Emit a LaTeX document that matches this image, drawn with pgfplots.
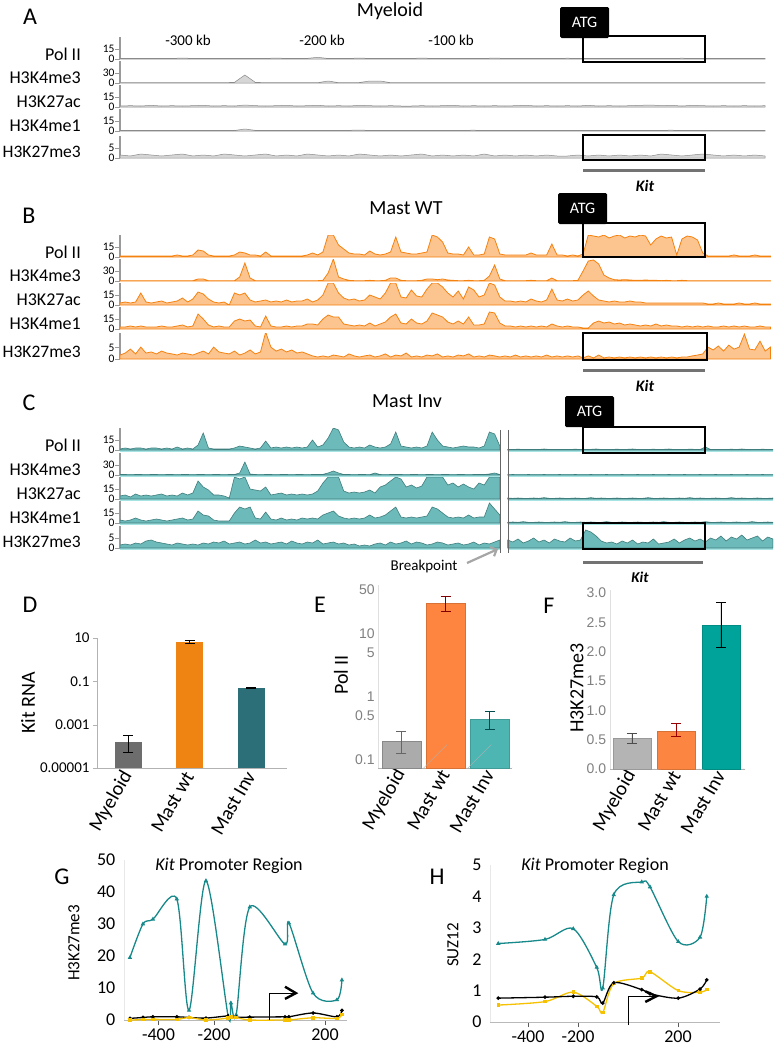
\documentclass[border=0pt]{standalone}
\usepackage{fontspec}
\setmainfont{Carlito}
\newfontfamily\arialf{Liberation Sans}
\usepackage{pgfplots}
\pgfplotsset{compat=1.18}
\usetikzlibrary{arrows.meta}

\definecolor{tkgray}{HTML}{9A9A9A}
\definecolor{agray}{HTML}{8A8A8A}
\definecolor{borg}{HTML}{F5820F}
\definecolor{borgf}{HTML}{FCC48F}
\definecolor{cline}{HTML}{3F7D7D}
\definecolor{cfill}{HTML}{6CBAB9}
\definecolor{cband}{HTML}{A6E3E3}
\definecolor{dgray}{HTML}{6D6D6D}
\definecolor{dorg}{HTML}{EF8413}
\definecolor{dteal}{HTML}{2C6F79}
\definecolor{egray}{HTML}{ABABAB}
\definecolor{eorg}{HTML}{FD8540}
\definecolor{eteal}{HTML}{4DB6B2}
\definecolor{fgray}{HTML}{B4B4B4}
\definecolor{forg}{HTML}{FC8542}
\definecolor{fteal}{HTML}{00A39A}
\definecolor{gteal}{HTML}{17898A}
\definecolor{gyel}{HTML}{F5C100}

\newcommand{\fsz}[1]{\fontsize{#1}{#1}\selectfont}

\pgfplotsset{
  table/td/.style={header=false, row sep=\\, y index=0},
  trk/.style={anchor=south west, width=653pt, scale only axis, xmin=-356, xmax=146, ymin=0,
    axis x line=none, axis y line=left, y axis line style={-, line width=2.4pt, draw=tkgray},
    ytick style={draw=tkgray, line width=1pt}, tick align=outside, major tick length=5pt,
    yticklabel style={font=\fsz{11.5}, inner sep=0.3pt},
    /pgf/number format/assume math mode=true},
  atrk/.style={draw=agray, fill=agray!35, line width=0.5pt},
  btrk/.style={draw=borg, fill=borgf, line width=0.8pt},
  ctrk/.style={draw=cline, fill=cfill, line width=0.6pt},
  onebar/.style={ybar, bar shift=0pt},
  ebar/.style={error bars/.cd, y dir=both, y explicit,
    error bar style={line width=0.9pt, #1},
    error mark options={rotate=90, mark size=5pt, line width=0.9pt, #1}},
  catbar/.style={anchor=south west, scale only axis, axis lines=left, axis line style={-},
    xtick={0,1,2}, xticklabels={Myeloid,Mast wt,Mast Inv}, xtick style={draw=none},
    xticklabel style={rotate=60, anchor=east, font=\fsz{20}, inner sep=1pt}},
}

\begin{document}
\begin{tikzpicture}
\useasboundingbox (0pt,0pt) rectangle (774pt,-1050pt);

% ---------------- A : Myeloid
\begin{axis}[trk, at={(120pt,-59pt)}, height=22pt, ymax=33, ytick={0,15}]
\addplot[atrk] table[td, x expr=\coordindex*8-356] {
0.8\\0.8\\1\\0.8\\0.8\\0.8\\1.5\\0.8\\0.8\\1\\0.8\\0.8\\1\\0.8\\0.8\\1.5\\0.8\\0.8\\1\\2.5\\
0.8\\1\\0.8\\1.5\\0.8\\0.8\\1\\0.8\\0.8\\1.5\\0.8\\1\\0.8\\0.8\\1\\0.8\\1.5\\0.8\\1\\0.8\\
0.8\\1\\0.8\\1.2\\0.8\\0.8\\1\\0.8\\0.8\\1\\0.8\\1\\0.8\\0.8\\1.2\\0.8\\1\\0.8\\0.8\\1\\
0.8\\1\\0.8\\} \closedcycle;
\end{axis}
\begin{axis}[trk, at={(120pt,-83pt)}, height=22pt, ymax=66, ytick={0,30}]
\addplot[atrk] table[td, x expr=\coordindex*8-356] {
1\\1\\1.5\\1\\1\\1.5\\1\\1\\1\\1.5\\1\\2\\24\\2\\1\\1\\1.5\\1\\1\\1\\
6\\1\\1\\1.5\\6\\6\\1\\1\\1\\1.5\\1\\1\\1\\1\\1.5\\1\\1\\1\\1\\1.5\\
1\\1\\1\\1.5\\1\\1\\1\\1\\1.5\\1\\1\\1\\1\\1.5\\1\\1\\1\\1\\1.5\\1\\
1\\1\\1\\} \closedcycle;
\end{axis}
\begin{axis}[trk, at={(120pt,-107pt)}, height=22pt, ymax=33, ytick={0,15}]
\addplot[atrk] table[td, x expr=\coordindex*8-356] {
1.5\\2\\1.5\\2.5\\1.5\\2\\1.5\\2\\2.5\\1.5\\2\\1.5\\3\\2\\1.5\\2\\2.5\\1.5\\2\\2.5\\
1.5\\2\\1.5\\2.5\\2\\1.5\\2\\1.5\\1.5\\2\\1.5\\2\\2.5\\1.5\\2\\1.5\\2\\1.5\\2\\2.5\\
1.5\\2\\1.5\\2\\1.5\\2.5\\1.5\\2\\1.5\\2\\2.5\\3\\2\\2.5\\1.5\\2.5\\2\\1.5\\2\\1.5\\
2\\1.5\\2\\} \closedcycle;
\end{axis}
\begin{axis}[trk, at={(120pt,-131pt)}, height=22pt, ymax=33, ytick={0,15}]
\addplot[atrk] table[td, x expr=\coordindex*8-356] {
0.8\\1\\0.8\\1\\0.8\\1\\0.8\\0.8\\1\\0.8\\1\\0.8\\3\\1\\0.8\\1\\0.8\\1\\0.8\\1\\
1\\0.8\\1\\1.5\\0.8\\1\\0.8\\1\\0.8\\1\\0.8\\1\\0.8\\1\\1.2\\0.8\\1\\0.8\\1\\0.8\\
1\\0.8\\1\\0.8\\1\\0.8\\1\\0.8\\1\\0.8\\1\\0.8\\1\\1.2\\0.8\\1\\0.8\\1\\0.8\\1\\
0.8\\1\\0.8\\} \closedcycle;
\end{axis}
\begin{axis}[trk, at={(120pt,-158pt)}, height=22pt, ymax=11, ytick={0,5}]
\addplot[atrk] table[td, x expr=\coordindex*8-356] {
1.5\\1\\2\\1.5\\1\\1.5\\2\\1\\1.5\\1\\2\\1.5\\1\\1.5\\2\\1\\1.5\\1\\2\\1.5\\
1\\1.5\\1\\2\\1.5\\1\\1.5\\1\\1.5\\2\\1\\1.5\\1\\1.5\\1\\2\\1\\1.5\\1\\1.5\\
1\\1.5\\1\\1\\1.5\\1\\1.5\\1\\1.5\\1\\1.5\\1\\2\\1.5\\1\\1.5\\2\\1.5\\1\\1.5\\
1\\1.5\\1\\} \closedcycle;
\end{axis}

% ---------------- B : Mast WT
\begin{axis}[trk, at={(120pt,-257pt)}, height=22pt, ymax=33, ytick={0,15}]
\addplot[btrk] table[td, x expr=\coordindex*4-356] {
1.5\\1.5\\1.5\\1.5\\1.5\\1.5\\1.5\\1.5\\1.5\\1.5\\
1.5\\3\\1.5\\1.5\\3\\10.5\\9\\3\\1.5\\1.5\\
1.5\\1.5\\3\\7.5\\6\\3\\3\\1.5\\7.5\\1.5\\
1.5\\1.5\\1.5\\1.5\\1.5\\1.5\\3\\6\\3\\7.5\\
33\\33\\18\\12\\6\\4.5\\4.5\\3\\9\\4.5\\
3\\4.5\\7.5\\30\\7.5\\6\\4.5\\4.5\\6\\7.5\\
33\\30\\22.5\\6\\4.5\\4.5\\3\\15\\3\\3\\
4.5\\30\\27\\4.5\\3\\3\\3\\3\\3\\6\\
3\\3\\3\\19.5\\3\\3\\1.5\\3\\1.5\\4.5\\
33\\31.5\\30\\33\\28.5\\31.5\\33\\28.5\\31.5\\30\\
33\\31.5\\18\\27\\31.5\\28.5\\30\\3\\27\\31.5\\
30\\25.5\\6\\1.5\\1.5\\1.5\\1.5\\1.5\\3\\1.5\\
1.5\\1.5\\3\\1.5\\1.5\\1.5\\} \closedcycle;
\end{axis}
\begin{axis}[trk, at={(120pt,-281pt)}, height=22pt, ymax=66, ytick={0,30}]
\addplot[btrk] table[td, x expr=\coordindex*4-356] {
1\\1\\1\\1\\1\\1\\1\\1\\1\\1\\
1\\1\\1\\1\\1\\6\\6\\1\\1\\1\\
1\\1\\1\\12\\54\\9\\1\\1\\1\\1\\
1\\1\\1\\1\\1\\1\\1\\1\\1\\2\\
24\\66\\12\\6\\2\\1\\1\\1\\2\\1\\
1\\2\\9\\9\\2\\1\\1\\1\\2\\6\\
6\\4\\6\\3\\2\\1\\1\\2\\1\\1\\
2\\15\\48\\6\\1\\1\\1\\1\\1\\2\\
1\\1\\1\\9\\1\\1\\1\\1\\2\\30\\
60\\63\\51\\18\\9\\4\\3\\4\\3\\2\\
2\\3\\2\\2\\1\\2\\1\\1\\2\\1\\
1\\1\\1\\1\\1\\1\\1\\1\\1\\1\\
1\\1\\1\\1\\1\\1\\} \closedcycle;
\end{axis}
\begin{axis}[trk, at={(120pt,-305pt)}, height=22pt, ymax=33, ytick={0,15}]
\addplot[btrk] table[td, x expr=\coordindex*4-356] {
3\\4.5\\3\\4.5\\18\\4.5\\3\\4.5\\6\\3\\
4.5\\6\\10.5\\4.5\\9\\19.5\\16.5\\9\\4.5\\3\\
4.5\\0\\18\\15\\18\\7.5\\4.5\\6\\7.5\\4.5\\
6\\4.5\\7.5\\4.5\\6\\6\\9\\4.5\\7.5\\15\\
33\\33\\18\\10.5\\7.5\\9\\6\\7.5\\15\\12\\
9\\18\\33\\33\\12\\10.5\\22.5\\13.5\\12\\24\\
33\\33\\27\\18\\12\\21\\9\\27\\22.5\\12\\
15\\33\\30\\12\\6\\6\\4.5\\6\\4.5\\9\\
6\\4.5\\7.5\\24\\7.5\\6\\9\\6\\7.5\\15\\
21\\13.5\\7.5\\6\\4.5\\6\\4.5\\4.5\\6\\4.5\\
4.5\\3\\3\\3\\3\\3\\3\\3\\3\\3\\
3\\3\\3\\1.5\\1.5\\3\\1.5\\1.5\\1.5\\3\\
1.5\\1.5\\3\\1.5\\1.5\\1.5\\} \closedcycle;
\end{axis}
\begin{axis}[trk, at={(120pt,-329pt)}, height=22pt, ymax=33, ytick={0,15}]
\addplot[btrk] table[td, x expr=\coordindex*4-356] {
3\\3\\4.5\\3\\4.5\\3\\3\\3\\4.5\\3\\
3\\4.5\\6\\3\\4.5\\22.5\\15\\6\\3\\4.5\\
3\\3\\12\\15\\12\\13.5\\4.5\\3\\19.5\\4.5\\
3\\3\\4.5\\3\\4.5\\4.5\\7.5\\7.5\\6\\15\\
21\\18\\18\\7.5\\6\\4.5\\6\\4.5\\9\\4.5\\
7.5\\10.5\\18\\22.5\\9\\7.5\\15\\9\\7.5\\12\\
24\\21\\18\\10.5\\7.5\\12\\7.5\\18\\6\\6\\
7.5\\25.5\\24\\9\\4.5\\4.5\\3\\4.5\\3\\4.5\\
3\\4.5\\3\\7.5\\4.5\\3\\4.5\\3\\3\\1.5\\
1.5\\9\\12\\9\\10.5\\7.5\\9\\6\\7.5\\6\\
4.5\\6\\4.5\\7.5\\4.5\\6\\4.5\\4.5\\3\\4.5\\
3\\4.5\\3\\4.5\\3\\3\\4.5\\3\\4.5\\3\\
4.5\\3\\3\\4.5\\3\\3\\} \closedcycle;
\end{axis}
\begin{axis}[trk, at={(120pt,-359pt)}, height=26pt, ymax=11.8, ytick={0,5}]
\addplot[btrk] table[td, x expr=\coordindex*4-356] {
1.8\\2.7\\4.5\\2.3\\5.4\\2.7\\3.2\\2.3\\3.6\\2.7\\
2.3\\1.8\\2.7\\2.3\\1.8\\2.7\\3.6\\2.3\\5.4\\3.2\\
2.7\\2.3\\3.6\\1.8\\2.7\\4.1\\2.3\\3.2\\12.2\\5.4\\
3.6\\4.5\\3.2\\4.1\\2.7\\3.2\\2.3\\1.4\\0.9\\1.4\\
0.9\\1.8\\1.4\\0.9\\2.3\\1.4\\0.9\\1.4\\1.8\\0.9\\
1.4\\2.3\\0.9\\1.8\\1.4\\2.7\\0.9\\1.4\\0.9\\1.8\\
1.4\\2.3\\0.9\\1.4\\0.9\\1.8\\1.4\\2.3\\0.9\\1.4\\
0.9\\1.8\\1.4\\0.9\\1.4\\0.9\\1.8\\0.9\\1.4\\0.9\\
1.4\\0.9\\1.8\\0.9\\1.4\\0.9\\1.4\\0.9\\1.4\\0.5\\
1.4\\0.5\\1.8\\0.5\\0.9\\0.5\\0.9\\0.5\\0.9\\0.5\\
0.9\\0.5\\0.9\\0.5\\0.9\\0.5\\0.9\\0.5\\0.9\\0.9\\
1.4\\1.8\\2.3\\5.4\\4.1\\5.9\\3.6\\6.3\\4.5\\5.4\\
11.3\\4.5\\4.1\\8.1\\3.6\\5.4\\} \closedcycle;
\end{axis}

% ---------------- C : Mast Inv
\foreach \yy in {450,475,499,523,548} {
  \draw[cband, line width=3pt] (120pt,-\yy pt) ++(0,-0.5pt) -- ++(380pt,0);
  \draw[cband, line width=3pt] (508pt,-\yy pt) ++(0,-0.5pt) -- ++(265pt,0);
}
\begin{axis}[trk, at={(120pt,-450pt)}, height=22pt, ymax=33, ytick={0,15}]
\addplot[ctrk] table[td, x expr=\coordindex*4-356] {
1.5\\3\\1.5\\3\\3\\1.5\\3\\3\\1.5\\3\\
1.5\\4.5\\1.5\\3\\1.5\\7.5\\25.5\\3\\1.5\\1.5\\
1.5\\1.5\\3\\6\\4.5\\3\\1.5\\3\\13.5\\3\\
4.5\\3\\4.5\\3\\4.5\\3\\4.5\\15\\4.5\\7.5\\
18\\33\\30\\12\\4.5\\3\\4.5\\3\\7.5\\4.5\\
3\\4.5\\9\\27\\6\\4.5\\3\\4.5\\3\\6\\
27\\15\\6\\4.5\\3\\4.5\\6\\4.5\\4.5\\3\\
6\\27\\24\\6\\} \closedcycle;
\addplot[ctrk] table[td, x expr=\coordindex*4-58] {
1\\0.8\\1.2\\0.8\\0.8\\1\\0.8\\1.5\\0.8\\0.8\\
1\\0.8\\0.8\\1.2\\0.8\\0.8\\1\\1.5\\0.8\\1\\
0.8\\1.2\\0.8\\1\\1.5\\0.8\\1\\0.8\\1.2\\0.8\\
1\\1.5\\0.8\\1\\0.8\\1.2\\1\\0.8\\4.5\\0.8\\
0.8\\1\\0.8\\1.2\\0.8\\1.5\\0.8\\1\\0.8\\1.2\\
0.8\\1\\} \closedcycle;
\end{axis}
\begin{axis}[trk, at={(120pt,-475pt)}, height=22pt, ymax=66, ytick={0,30}]
\addplot[ctrk] table[td, x expr=\coordindex*4-356] {
1.5\\1.5\\1\\1.5\\1.5\\1\\1.5\\1.5\\1\\1.5\\
1.5\\1\\1.5\\1.5\\1\\1.5\\1.5\\1\\1.5\\1.5\\
1\\1.5\\1.5\\6\\39\\3\\1.5\\1\\1.5\\1.5\\
1\\1.5\\1.5\\1\\1.5\\1.5\\1\\1.5\\1.5\\2\\
6\\12\\6\\1.5\\1.5\\1\\1.5\\1.5\\1\\6\\
1.5\\1\\1.5\\1.5\\1.5\\1\\1.5\\1.5\\1\\1.5\\
1.5\\1\\1.5\\1.5\\1\\1.5\\1.5\\1\\1.5\\1.5\\
1.5\\3\\6\\1.5\\} \closedcycle;
\addplot[ctrk] table[td, x expr=\coordindex*4-58] {
1\\1.5\\1\\1\\1.5\\1\\1\\1.5\\1\\1\\
1.5\\1\\1\\1.5\\1\\1\\1.5\\1\\1\\1.5\\
1\\1\\1.5\\1\\1\\1.5\\1\\1\\1.5\\1\\
1\\1.5\\1\\1\\1.5\\1\\1\\1.5\\1\\1\\
1.5\\1\\1\\1.5\\1\\1\\1.5\\1\\1\\1.5\\
1\\1\\} \closedcycle;
\end{axis}
\begin{axis}[trk, at={(120pt,-499pt)}, height=22pt, ymax=33, ytick={0,15}]
\addplot[ctrk] table[td, x expr=\coordindex*4-356] {
4.5\\6\\3\\7.5\\4.5\\6\\4.5\\6\\7.5\\4.5\\
6\\4.5\\9\\6\\9\\27\\18\\13.5\\6\\6\\
4.5\\1.5\\33\\30\\33\\15\\13.5\\12\\18\\6\\
7.5\\9\\6\\7.5\\6\\7.5\\6\\7.5\\12\\24\\
33\\33\\33\\12\\9\\10.5\\9\\10.5\\13.5\\9\\
18\\21\\27\\33\\30\\18\\21\\16.5\\19.5\\33\\
33\\33\\33\\21\\24\\18\\22.5\\18\\15\\24\\
21\\33\\33\\33\\} \closedcycle;
\addplot[ctrk] table[td, x expr=\coordindex*4-58] {
1.5\\1\\1.5\\1\\1\\1.5\\1\\2\\1\\1\\
1.5\\1\\1\\1.5\\1\\1\\2\\1\\1.5\\1\\
1\\1.5\\1\\1\\1.5\\1\\1\\2\\1\\1\\
1.5\\1\\1\\1.5\\1\\2\\1\\1.5\\1\\1\\
1.5\\1\\1\\2\\1\\1.5\\1\\1\\1.5\\1\\
1\\1.5\\} \closedcycle;
\end{axis}
\begin{axis}[trk, at={(120pt,-523pt)}, height=22pt, ymax=33, ytick={0,15}]
\addplot[ctrk] table[td, x expr=\coordindex*4-356] {
4.5\\3\\4.5\\7.5\\4.5\\3\\4.5\\6\\4.5\\3\\
4.5\\6\\7.5\\4.5\\6\\18\\12\\10.5\\4.5\\3\\
3\\3\\15\\24\\21\\24\\7.5\\6\\16.5\\6\\
4.5\\7.5\\4.5\\6\\4.5\\7.5\\6\\7.5\\6\\12\\
15\\18\\10.5\\7.5\\6\\7.5\\6\\7.5\\12\\7.5\\
9\\12\\18\\24\\9\\7.5\\9\\7.5\\9\\10.5\\
24\\21\\15\\9\\7.5\\9\\7.5\\12\\7.5\\9\\
9\\30\\21\\12\\} \closedcycle;
\addplot[ctrk] table[td, x expr=\coordindex*4-58] {
1\\1.5\\1\\2\\1\\1\\1.5\\1\\1\\1.5\\
1\\2\\1\\1\\1.5\\1\\1.5\\1\\1\\2\\
1\\1\\1.5\\1\\1\\1.5\\1\\1\\1.5\\1\\
2\\1\\1\\1.5\\1\\1\\1.5\\1\\2\\1\\
1\\1.5\\1\\1\\1.5\\1\\1\\2\\1\\1\\
1.5\\1\\} \closedcycle;
\end{axis}
\begin{axis}[trk, at={(120pt,-548pt)}, height=22pt, ymax=11, ytick={0,5}]
\addplot[ctrk] table[td, x expr=\coordindex*4-356] {
1.5\\2\\1.5\\2.5\\2\\3.5\\4\\3\\2.5\\2\\
1.5\\2.5\\2\\1.5\\2\\1.5\\2.5\\2\\3\\2.5\\
3.5\\2\\2.5\\3\\2\\2.5\\4\\2.5\\3\\2\\
2.5\\3\\2\\3.5\\2.5\\2\\3\\2.5\\4\\2\\
2.5\\3\\2\\2.5\\1.5\\2\\1\\1.5\\1\\2\\
2.5\\1.5\\3\\2\\2.5\\3.5\\2\\3\\2.5\\1.5\\
2\\3\\2.5\\1.5\\2\\2.5\\1.5\\2\\3\\1.5\\
2.5\\2\\3\\4\\} \closedcycle;
\addplot[ctrk] table[td, x expr=\coordindex*4-58] {
4\\3\\4.5\\2.5\\3.5\\5\\3\\4\\2.5\\4.5\\
3.5\\3\\5\\3.5\\4\\9\\8\\6\\3.5\\2.5\\
3\\2\\3.5\\2.5\\4\\2\\3\\2.5\\4.5\\2\\
2.5\\3\\4.5\\2.5\\4\\5\\3.5\\4.5\\3\\5\\
4\\6\\3.5\\5.5\\4.5\\6.5\\4\\5\\6\\3.5\\
5.5\\4.5\\} \closedcycle;
\end{axis}

% ---------------- D : Kit RNA
\begin{axis}[catbar, at={(97pt,-768pt)}, width=190pt, height=130pt,
  ymode=log, log origin=infty, ymin=1e-5, ymax=10, xmin=-0.51, xmax=2.58,
  axis line style={draw=gray!60},
  ytick={1e-5,1e-3,1e-1,10}, yticklabels={0.00001,0.001,0.1,10},
  yticklabel style={font=\fsz{15}}, ytick style={draw=gray!60}, tick align=outside,
  major tick length=4pt]
\addplot[onebar, bar width=27pt, fill=dgray, draw=none, ebar=black]
  coordinates {(0,0.00016) += (0,0.00017) -= (0,0.000105)};
\addplot[onebar, bar width=27pt, fill=dorg, draw=none, ebar=black]
  coordinates {(1,6.5) += (0,1.2) -= (0,1.0)};
\addplot[onebar, bar width=27pt, fill=dteal, draw=none, ebar=black]
  coordinates {(2,0.049) += (0,0.004) -= (0,0.004)};
\end{axis}

% ---------------- E : Pol II
\begin{axis}[catbar, at={(378pt,-768pt)}, width=134pt, height=183pt,
  ymode=log, log origin=infty, ymin=0.075, ymax=60, xmin=-0.53, xmax=2.5,
  x axis line style={draw=gray!60}, y axis line style={draw=gray!25},
  ytick={0.1,0.5,1,5,10,50}, yticklabels={0.1,0.5,1,5,10,50},
  yticklabel style={font=\arialf\fsz{14}, text=gray, inner sep=1pt}, ytick style={draw=none}]
\addplot[onebar, bar width=39pt, fill=egray, draw=egray!80!black, ebar={gray!80!black}]
  coordinates {(0,0.2) += (0,0.09) -= (0,0.07)};
\addplot[onebar, bar width=39pt, fill=eorg, draw=eorg!85!black, ebar={red!50!black}]
  coordinates {(1,31) += (0,9) -= (0,8)};
\addplot[onebar, bar width=39pt, fill=eteal, draw=eteal!85!black, ebar={teal!60!black}]
  coordinates {(2,0.45) += (0,0.15) -= (0,0.14)};
\draw[gray!60] (axis cs:0.5,0.075) -- ++(0,-4pt);
\draw[gray!60] (axis cs:1.5,0.075) -- ++(0,-4pt);
\draw[gray!60] (axis cs:2.5,0.075) -- ++(0,-4pt);
\end{axis}

% ---------------- F : H3K27me3
\begin{axis}[catbar, at={(610pt,-769pt)}, width=135pt, height=179pt,
  ymin=0, ymax=3.05, xmin=-0.494, xmax=2.54,
  x axis line style={draw=gray!60}, y axis line style={draw=gray!25},
  ytick={0,0.5,1,1.5,2,2.5,3},
  yticklabel style={font=\arialf\fsz{14}, text=gray, inner sep=1.5pt}, ytick style={draw=none},
  /pgf/number format/fixed, /pgf/number format/fixed zerofill,
  /pgf/number format/precision=1, /pgf/number format/assume math mode=true]
\addplot[onebar, bar width=38pt, fill=fgray, draw=fgray!85!black, ebar={gray!60!black}]
  coordinates {(0,0.52) += (0,0.08) -= (0,0.08)};
\addplot[onebar, bar width=38pt, fill=forg, draw=forg!85!black, ebar={red!60!black}]
  coordinates {(1,0.65) += (0,0.12) -= (0,0.1)};
\addplot[onebar, bar width=38pt, fill=fteal, draw=fteal!85!black, ebar=black]
  coordinates {(2,2.45) += (0,0.39) -= (0,0.38)};
\draw[gray!60] (axis cs:0.5,0) -- ++(0,-4pt);
\draw[gray!60] (axis cs:1.5,0) -- ++(0,-4pt);
\draw[gray!60] (axis cs:2.5,0) -- ++(0,-4pt);
\end{axis}

% ---------------- G : H3K27me3 promoter
\begin{axis}[at={(123.8pt,-1020pt)}, anchor=south west, width=223.4pt, height=160pt, scale only axis,
  xmin=-525, xmax=280, ymin=0, ymax=50, clip=false,
  axis x line=bottom, axis y line=left, axis line style={-},
  x axis line style={draw=gray!55}, y axis line style={draw=gray!18},
  ytick={0,10,20,30,40,50}, ytick style={draw=none},
  xtick={-400,-200,200}, xtick style={draw=gray!70!black, line width=0.8pt},
  tick align=outside, major tick length=5pt,
  ticklabel style={font=\fsz{18}}, /pgf/number format/assume math mode=true]
\addplot[gteal, line width=1.3pt, smooth, tension=0.5, mark=triangle*, mark size=1.3pt] coordinates {
  (-503,19.5) (-456,30) (-420,31.5) (-334,37.8) (-290,3) (-229,43.5) (-149,1.2) (-139,5.3)
  (-120,1.6) (-71,35.3) (56,23.7) (70,30.3) (157,8.4) (243,6.3) (261,12.5)};
\addplot[black, line width=1.3pt, smooth, tension=0.5, mark=*, mark size=1.1pt] coordinates {
  (-503,0.5) (-456,0.8) (-420,1.0) (-334,1.0) (-290,0.8) (-229,0.6) (-149,1.3) (-139,1.0)
  (-120,0.9) (-71,0.9) (56,1.0) (70,1.0) (157,2.2) (243,1.0) (261,3.0)};
\addplot[gyel, line width=1.3pt, smooth, tension=0.5, mark=square*, mark size=1.1pt] coordinates {
  (-503,0) (-456,0.1) (-420,0.2) (-334,0.2) (-290,0.8) (-229,0) (-149,0.6) (-139,1.0)
  (-120,0.8) (-71,0) (56,0) (70,0) (157,0.7) (243,0.5) (261,1.8)};
\draw[black, line width=0.8pt] (axis cs:0,0) -- (axis cs:0,8.4) -- (axis cs:90,8.4);
\draw[black, line width=2.4pt] (axis cs:56,10.4) -- (axis cs:95,8.4) -- (axis cs:56,6.6);
\end{axis}

% ---------------- H : SUZ12 promoter
\begin{axis}[at={(490pt,-1022pt)}, anchor=south west, width=230pt, height=157pt, scale only axis,
  xmin=-552, xmax=368, ymin=0, ymax=5, clip=false,
  axis x line=bottom, axis y line=left, axis line style={-},
  x axis line style={draw=gray!55}, y axis line style={draw=gray!18},
  ytick={0,1,2,3,4,5}, ytick style={draw=none},
  xtick={-400,-200,200}, xtick style={draw=gray!70!black, line width=0.8pt},
  tick align=outside, major tick length=5pt,
  ticklabel style={font=\fsz{18}}, /pgf/number format/assume math mode=true]
\addplot[gteal, line width=1.3pt, smooth, tension=0.5, mark=triangle*, mark size=1.3pt] coordinates {
  (-519,2.5) (-332,2.63) (-219,2.97) (-125,1.74) (-101,1.08) (-57,4.05) (55,4.46) (88,4.3)
  (201,2.56) (288,2.7) (315,4.0)};
\addplot[gyel, line width=1.3pt, smooth, tension=0.5, mark=square*, mark size=1.1pt] coordinates {
  (-519,0.54) (-332,0.65) (-219,0.95) (-125,0.5) (-101,0.3) (-57,1.22) (55,1.4) (88,1.6)
  (201,1.0) (288,0.95) (315,1.03)};
\addplot[black, line width=1.3pt, smooth, tension=0.5, mark=*, mark size=1.1pt] coordinates {
  (-519,0.76) (-332,0.79) (-219,0.82) (-125,0.8) (-101,0.6) (-57,1.25) (55,1.03) (88,0.9)
  (201,0.76) (288,1.05) (315,1.34)};
\draw[black, line width=0.8pt] (axis cs:0,-0.1) -- (axis cs:0,0.82) -- (axis cs:108,0.82);
\draw[black, line width=2.4pt] (axis cs:69,0.98) -- (axis cs:114,0.82) -- (axis cs:69,0.64);
\end{axis}

% ---------------- annotations
\begin{scope}[x=1pt, y=-1pt]
  \foreach \lab/\px/\py in {A/30/17, B/29/216, C/29/403, D/30/605, E/320/605, F/549/606, G/62/877, H/437/877}
    \node[font=\fsz{24}] at (\px,\py) {\lab};
  \node[font=\fsz{20}] at (390,11) {Myeloid};
  \node[font=\fsz{20}] at (406,208) {Mast WT};
  \node[font=\fsz{20}] at (407,401) {Mast Inv};
  \node[font=\fsz{15}] at (188,40) {-300 kb};
  \node[font=\fsz{15}] at (322,40) {-200 kb};
  \node[font=\fsz{15}] at (451,40) {-100 kb};
  \foreach \b/\c/\d/\e/\f in {59/83/107/131/157, 257/281/305/329/357, 450/475/499/523/547} {
    \node[anchor=east, font=\fsz{18}, inner sep=0pt] at (81,\b-5) {Pol II};
    \node[anchor=east, font=\fsz{18}, inner sep=0pt] at (81,\c-5) {H3K4me3};
    \node[anchor=east, font=\fsz{18}, inner sep=0pt] at (81,\d-5) {H3K27ac};
    \node[anchor=east, font=\fsz{18}, inner sep=0pt] at (81,\e-5) {H3K4me1};
    \node[anchor=east, font=\fsz{17.5}, inner sep=0pt] at (81,\f-5) {H3K27me3};
  }
  \draw[black, line width=1.3pt] (583,36) rectangle (705,62);
  \draw[black, line width=1.3pt] (583,135) rectangle (705,160);
  \draw[black, line width=1.3pt] (583,223) rectangle (705,257);
  \draw[black, line width=1.3pt] (583,333) rectangle (707,360);
  \draw[black, line width=1.3pt] (583,427) rectangle (705,453);
  \draw[black, line width=1.3pt] (583,523) rectangle (705,549);
  \foreach \ax/\ay in {560/7, 558/193, 565/396} {
    \fill[black, rounded corners=1.5pt] (\ax,\ay) rectangle ++(49,31);
    \node[white, font=\fsz{16}] at (\ax+24.5,\ay+15.5) {ATG};
  }
  \draw[gray!90!black, line width=3pt] (583,170) -- (705,170);
  \node[font=\fsz{16}\bfseries\itshape] at (645,186) {Kit};
  \draw[gray!90!black, line width=3pt] (583,370) -- (705,370);
  \node[font=\fsz{16}\bfseries\itshape] at (645,386) {Kit};
  \draw[gray!90!black, line width=3pt] (583,562) -- (703,562);
  \node[font=\fsz{15}\bfseries\itshape] at (640,577) {Kit};
  \draw[gray!80!black, line width=0.6pt] (500,430) -- (500,553);
  \draw[gray!80!black, line width=0.6pt] (508,430) -- (508,553);
  \node[font=\fsz{15}] at (424,566) {Breakpoint};
  \draw[gray!70, line width=2.2pt, -{Straight Barb[length=5pt, width=10pt]}] (467,563) -- (498,549);
  \node[rotate=90, font=\fsz{20}] at (28,703) {Kit RNA};
  \node[rotate=90, font=\fsz{20}] at (341,675) {Pol II};
  \node[rotate=90, font=\fsz{20}] at (577,688) {H3K27me3};
  \node[rotate=90, font=\fsz{17}] at (74,943) {H3K27me3};
  \node[rotate=90, font=\fsz{17}] at (453,945) {SUZ12};
  \node[font=\fsz{18}] at (229,866) {\textit{Kit} Promoter Region};
  \node[font=\fsz{18}] at (595,866) {\textit{Kit} Promoter Region};
\end{scope}
\end{tikzpicture}
\end{document}
